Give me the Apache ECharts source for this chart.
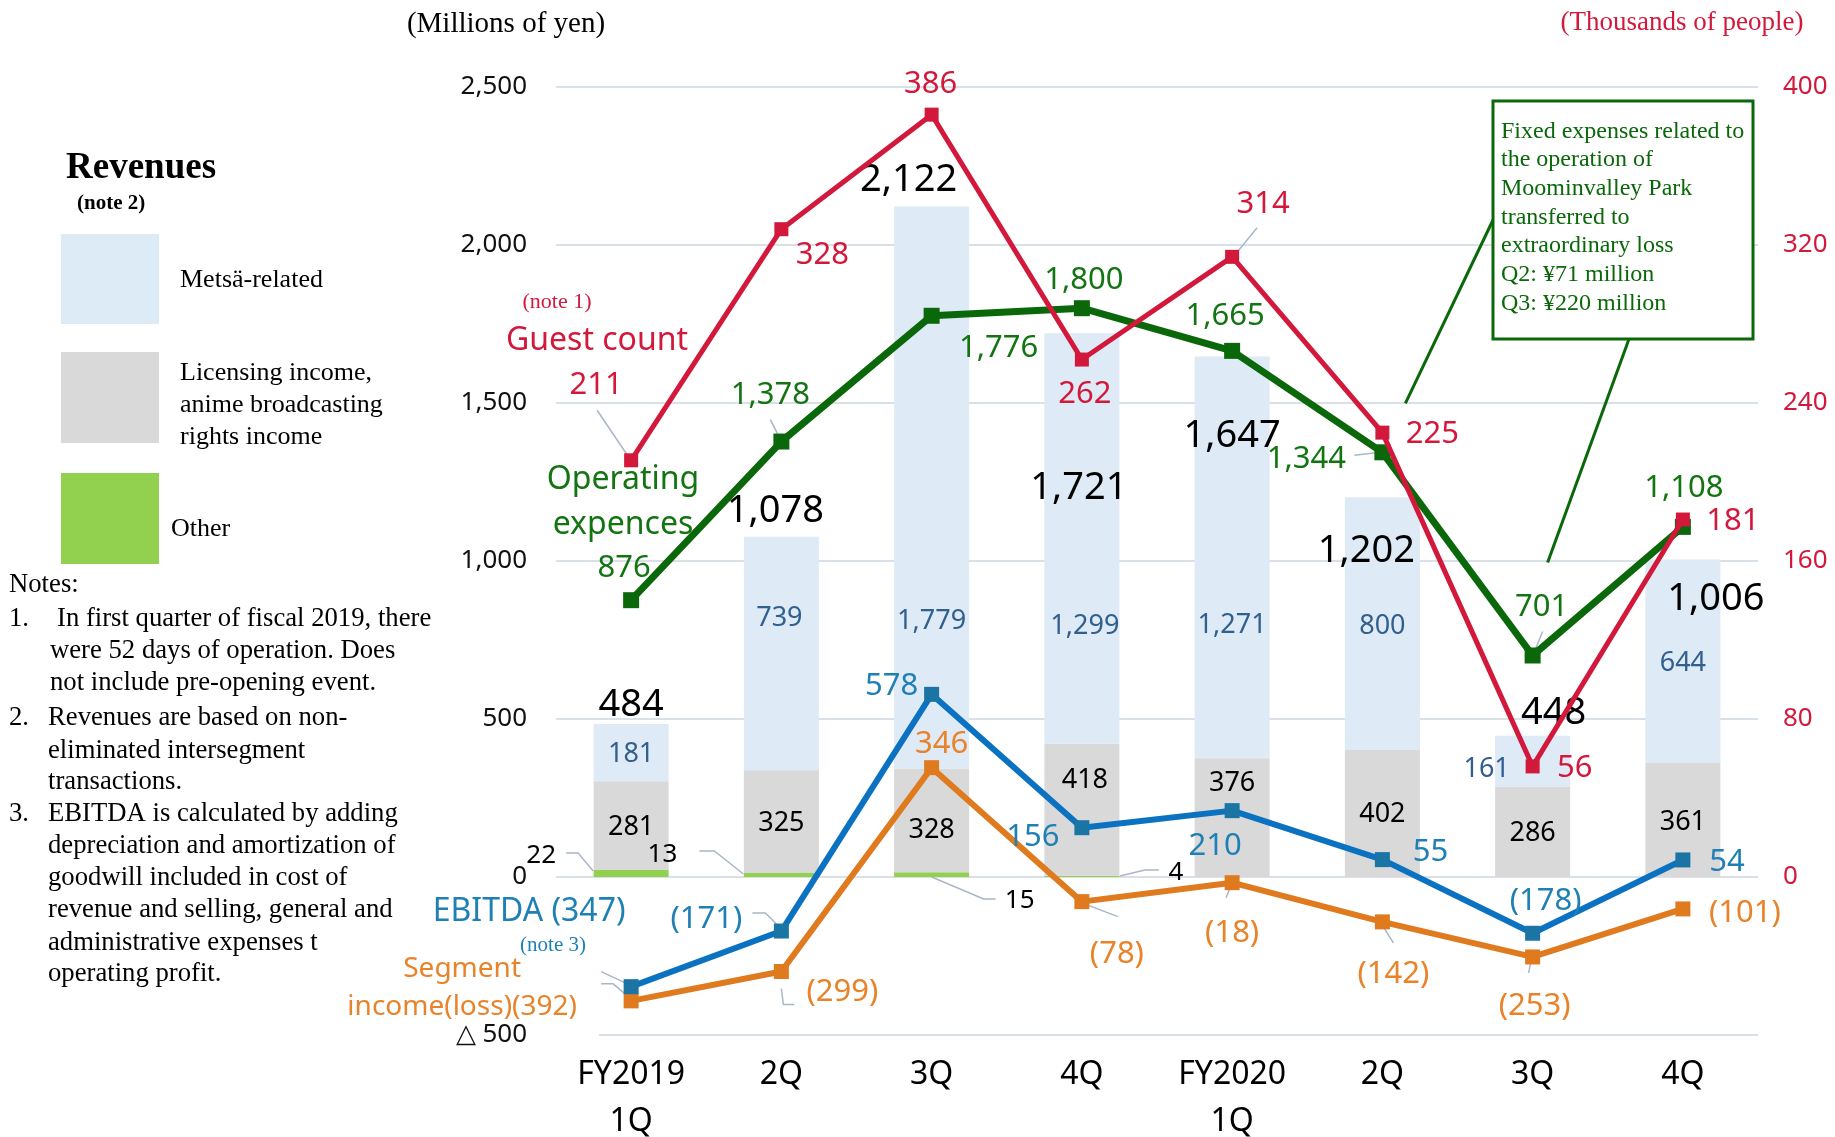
<!DOCTYPE html>
<html>
<head>
<meta charset="utf-8">
<script src="https://cdn.jsdelivr.net/npm/echarts@6/dist/echarts.min.js"></script>
<style>
html,body{margin:0;padding:0;background:#fff;}
#main{width:1835px;height:1137px;}
</style>
</head>
<body>
<div id="main"></div>
<script>
// data
var categories = ['FY2019\n1Q', '2Q', '3Q', '4Q', 'FY2020\n1Q', '2Q', '3Q', '4Q'];
var metsa = [181, 739, 1779, 1299, 1271, 800, 161, 644];
var licensing = [281, 325, 328, 418, 376, 402, 286, 361];
var other = [22, 13, 15, 4, 0, 0, 0, 0];
var revenueTotal = [484, 1078, 2122, 1721, 1647, 1202, 448, 1006];
var guests = [211, 328, 386, 262, 314, 225, 56, 181];
var opex = [876, 1378, 1776, 1800, 1665, 1344, 701, 1108];
var ebitda = [-347, -171, 578, 156, 210, 55, -178, 54];
var segment = [-392, -299, 346, -78, -18, -142, -253, -101];
var yenTicks = [-500, 0, 500, 1000, 1500, 2000, 2500];
var peopleTicks = [-80, 0, 80, 160, 240, 320, 400];

// where each label sits, px from the centre of its mark
var totalShift = [[0,-19],[-6,-25],[-23,-26],[-3,155],[0,80],[-16,54],[21,-22],[33,40]];
var metsaShift = [[0,2],[-2,-35],[0,134],[3,88],[0,68],[0,3],[-46,8],[0,2]];
var licShift = [[0,2],[0,2],[0,10],[3,-29],[0,-34],[0,1],[0,2],[0,2]];
var otherShift = [[-90,-18],[-119,-20],[88,26],[94,-4],[0,0],[0,0],[0,0],[0,0]];
var guestShift = [[-35,-75],[41,26],[-1,-30],[3,35],[31,-53],[50,2],[42,2],[50,2]];
var opexShift = [[-7,-32],[-11,-46],[67,32],[2,-28],[-7,-35],[-76,7],[9,-48],[1,-39]];
var ebitdaShift = [[-102,-75],[-75,-12],[-40,-8],[-49,9],[-17,36],[48,-7],[13,-32],[44,2]];
var segShift = [[-169,-13],[61,21],[10,-23],[35,53],[0,50],[11,52],[2,49],[62,4]];

var SANS = '"Noto Sans", "Open Sans", sans-serif';
var SERIF = '"Liberation Serif", "DejaVu Serif", serif';
var RED = '#D2193C', GREEN = '#0A680A', GREEN_TXT = '#127512';
var BLUE = '#0A72C0', BLUE_MK = '#1A75A5', BLUE_TXT = '#1F80B5';
var ORANGE = '#E07A1F', ORANGE_TXT = '#E8832A';

function fmt(v) {
	var s = Math.abs(v).toLocaleString('en-US');
	return v < 0 ? '(' + s + ')' : s;
}
function withShift(arr, shift) {
	return arr.map(function (v, i) {
		return { value: v, label: { offset: shift[i] } };
	});
}

var chart = echarts.init(document.getElementById('main'));

var ebitdaData = withShift(ebitda, ebitdaShift);
ebitdaData[0].label.fontSize = 32;
var segData = withShift(segment, segShift);
segData[0].label.fontSize = 28;
segData[0].label.lineHeight = 38;

var option = {
	animation: false,
	backgroundColor: '#fff',
	grid: { left: 556, right: 77, top: 87, bottom: 102, containLabel: false, outerBoundsMode: 'none' },
	xAxis: {
		type: 'category',
		data: categories,
		axisLine: { show: false },
		axisTick: { show: false },
		axisLabel: { interval: 0, fontSize: 32, lineHeight: 47, margin: 16, color: '#000', fontFamily: SANS }
	},
	yAxis: [{
		type: 'value',
		min: yenTicks[0], max: yenTicks[yenTicks.length - 1], interval: yenTicks[1] - yenTicks[0],
		axisLine: { show: false }, axisTick: { show: false },
		axisLabel: {
			fontSize: 26, margin: 29, color: '#111', fontFamily: SANS,
			formatter: function (v) { return v < 0 ? '△ ' + Math.abs(v) : v.toLocaleString('en-US'); }
		},
		splitLine: { lineStyle: { color: '#D9E0E8', width: 2 } }
	}, {
		type: 'value', position: 'right',
		min: peopleTicks[0], max: peopleTicks[peopleTicks.length - 1], interval: peopleTicks[2] - peopleTicks[1],
		axisLine: { show: false }, axisTick: { show: false },
		axisLabel: {
			fontSize: 26, margin: 25, color: RED, fontFamily: SANS,
			formatter: function (v) { return v < 0 ? '' : String(v); }
		},
		splitLine: { show: false }
	}],
	series: [{
		name: 'Other', type: 'bar', stack: 'rev', barWidth: 75,
		itemStyle: { color: '#92D050' },
		data: withShift(other, otherShift),
		label: { show: true, position: 'inside', fontSize: 26, color: '#000', fontFamily: SANS,
			formatter: function (p) { return p.value ? fmt(p.value) : ''; } }
	}, {
		name: 'Licensing', type: 'bar', stack: 'rev', barWidth: 75,
		itemStyle: { color: '#D9D9D9' },
		data: withShift(licensing, licShift),
		label: { show: true, position: 'inside', fontSize: 27, color: '#000', fontFamily: SANS,
			formatter: function (p) { return fmt(p.value); } }
	}, {
		name: 'Metsa', type: 'bar', stack: 'rev', barWidth: 75,
		itemStyle: { color: '#DEEAF6' },
		data: withShift(metsa, metsaShift),
		label: { show: true, position: 'inside', fontSize: 27, color: '#31608F', fontFamily: SANS,
			formatter: function (p) { return fmt(p.value); } }
	}, {
		// invisible points that only carry the revenue totals
		name: 'Revenues', type: 'scatter', symbolSize: 1, z: 3,
		itemStyle: { color: 'rgba(0,0,0,0)', opacity: 1 },
		data: withShift(revenueTotal, totalShift),
		label: { show: true, position: 'inside', fontSize: 38, color: '#000', fontFamily: SANS,
			formatter: function (p) { return fmt(p.value); } }
	}, {
		name: 'Segment', type: 'line', symbol: 'rect', symbolSize: 15, z: 4,
		lineStyle: { color: ORANGE, width: 6 }, itemStyle: { color: ORANGE },
		data: segData,
		label: { show: true, position: 'inside', fontSize: 31, color: ORANGE_TXT, fontFamily: SANS, align: 'center',
			formatter: function (p) { return p.dataIndex === 0 ? 'Segment\nincome(loss)' + fmt(p.value) : fmt(p.value); } }
	}, {
		name: 'EBITDA', type: 'line', symbol: 'rect', symbolSize: 15, z: 5,
		lineStyle: { color: BLUE, width: 6 }, itemStyle: { color: BLUE_MK },
		data: ebitdaData,
		label: { show: true, position: 'inside', fontSize: 31, color: BLUE_TXT, fontFamily: SANS,
			formatter: function (p) { return p.dataIndex === 0 ? 'EBITDA ' + fmt(p.value) : fmt(p.value); } }
	}, {
		name: 'Opex', type: 'line', symbol: 'rect', symbolSize: 16, z: 6,
		lineStyle: { color: GREEN, width: 7 }, itemStyle: { color: GREEN },
		data: withShift(opex, opexShift),
		label: { show: true, position: 'inside', fontSize: 31, color: GREEN_TXT, fontFamily: SANS,
			formatter: function (p) { return fmt(p.value); } }
	}, {
		name: 'Guests', type: 'line', yAxisIndex: 1, symbol: 'rect', symbolSize: 14, z: 7,
		lineStyle: { color: RED, width: 5 }, itemStyle: { color: RED },
		data: withShift(guests, guestShift),
		label: { show: true, position: 'inside', fontSize: 31, color: RED, fontFamily: SANS,
			formatter: function (p) { return fmt(p.value); } }
	}]
};
chart.setOption(option);

// leader lines, px from the data point
var leaders = [
	['guest', 0, [[-34,-50],[-1,-1]]],
	['guest', 4, [[25,-29],[2,-1]]],
	['opex', 1, [[-11,-22],[-1,-2]]],
	['opex', 5, [[-28,3],[-2,0]]],
	['opex', 6, [[10,-24],[1,-2]]],
	['ebitda', 0, [[-30,-15],[0,-1]]],
	['ebitda', 1, [[-29,-18],[-16,-18],[0,-2]]],
	['ebitda', 5, [[6,-6],[20,-8]]],
	['segment', 0, [[-30,-17],[-18,-17],[0,-2]]],
	['segment', 1, [[0,17],[2,33],[13,33]]],
	['segment', 3, [[2,2],[36,15]]],
	['segment', 4, [[-1,2],[-6,15]]],
	['segment', 5, [[-1,2],[11,21]]],
	['segment', 6, [[-1,1],[-4,16]]],
	['other', 0, [[-65,-24],[-53,-24],[-38,-6]]],
	['other', 1, [[-82,-26],[-67,-26],[-38,-3]]],
	['other', 2, [[64,22],[52,22],[0,0]]],
	['other', 3, [[77,-7],[63,-7],[38,-1]]]
];
var seriesOf = { guest: [guests, 1], opex: [opex, 0], ebitda: [ebitda, 0], segment: [segment, 0], other: [null, 0] };

function px(axis, i, v) {
	return chart.convertToPixel({ xAxisIndex: 0, yAxisIndex: axis }, [i, v]);
}
function txt(s, x, y, font, color, align, lh) {
	return {
		type: 'text', x: x, y: y, z: 10,
		style: { text: s, font: font, fill: color, align: align || 'left', verticalAlign: 'middle',
			textAlign: align || 'left', textVerticalAlign: 'middle', lineHeight: lh }
	};
}
function box(x, y, w, h, fill, stroke) {
	return { type: 'rect', z: 10, shape: { x: x, y: y, width: w, height: h },
		style: { fill: fill, stroke: stroke || null, lineWidth: stroke ? 3 : 0 } };
}
function line(pts, color, w) {
	return { type: 'polyline', z: 1, shape: { points: pts }, style: { stroke: color, lineWidth: w, fill: null } };
}

var els = [];
leaders.forEach(function (d) {
	var s = seriesOf[d[0]];
	var p = px(s[1], d[1], s[0] ? s[0][d[1]] : 0);
	els.push(line(d[2].map(function (o) { return [p[0] + o[0], p[1] + o[1]]; }), '#A9B6C8', 1.5));
});

// bottom grid line starts a bit further right on the slide
els.push({ type: 'rect', z: 1, shape: { x: 553, y: 1031, width: 46, height: 8 }, style: { fill: '#fff' } });

// series names
els.push(txt('(note 1)', 557, 302, '22px ' + SERIF, RED, 'center'));
els.push(txt('Guest count', 597, 341, '32px ' + SANS, RED, 'center'));
els.push(txt('Operating\nexpences', 623, 502, '32px ' + SANS, GREEN_TXT, 'center', 45));
els.push(txt('(note 3)', 553, 945, '21px ' + SERIF, BLUE_TXT, 'center'));

// units
els.push(txt('(Millions of yen)', 506, 24, '29px ' + SERIF, '#000', 'center'));
els.push(txt('(Thousands of people)', 1682, 23, '27px ' + SERIF, RED, 'center'));

// revenue legend
els.push(txt('Revenues', 66, 168, 'bold 37px ' + SERIF, '#000'));
els.push(txt('(note 2)', 77, 204, 'bold 21px ' + SERIF, '#000'));
els.push(box(61, 234, 98, 90, '#DDEBF7'));
els.push(box(61, 352, 98, 91, '#D9D9D9'));
els.push(box(61, 473, 98, 91, '#92D050'));
els.push(txt('Metsä-related', 180, 280, '26px ' + SERIF, '#000'));
els.push(txt('Licensing income,\nanime broadcasting\nrights income', 180, 405, '26px ' + SERIF, '#000', 'left', 32));
els.push(txt('Other', 171, 529, '26px ' + SERIF, '#000'));

// notes
var notes = [
	['Notes:', 9, 585],
	['1.', 9, 619], ['In first quarter of fiscal 2019, there', 57, 619],
	['were 52 days of operation. Does', 50, 651],
	['not include pre-opening event.', 50, 683],
	['2.', 9, 718], ['Revenues are based on non-', 48, 718],
	['eliminated intersegment', 48, 751],
	['transactions.', 48, 782],
	['3.', 9, 814], ['EBITDA is calculated by adding', 48, 814],
	['depreciation and amortization of', 48, 846],
	['goodwill included in cost of', 48, 878],
	['revenue and selling, general and', 48, 910],
	['administrative expenses t', 48, 943],
	['operating profit.', 48, 974]
];
notes.forEach(function (n) { els.push(txt(n[0], n[1], n[2], '26.7px ' + SERIF, '#000')); });

// note box about the park's fixed expenses
var p5 = px(0, 5, opex[5]), p6 = px(0, 6, opex[6]);
els.push(line([[1493, 220], [p5[0] + 23, p5[1] - 49]], GREEN, 3));
els.push(line([[1629, 339], [p6[0] + 15, p6[1] - 93]], GREEN, 3));
els.push(box(1493, 101, 260, 238, '#fff', GREEN));
els.push(txt('Fixed expenses related to\nthe operation of\nMoominvalley Park\ntransferred to\nextraordinary loss\nQ2: ¥71 million\nQ3: ¥220 million',
	1501, 217.4, '24px ' + SERIF, GREEN, 'left', 28.7));

chart.setOption({ graphic: { elements: els } });
</script>
</body>
</html>
